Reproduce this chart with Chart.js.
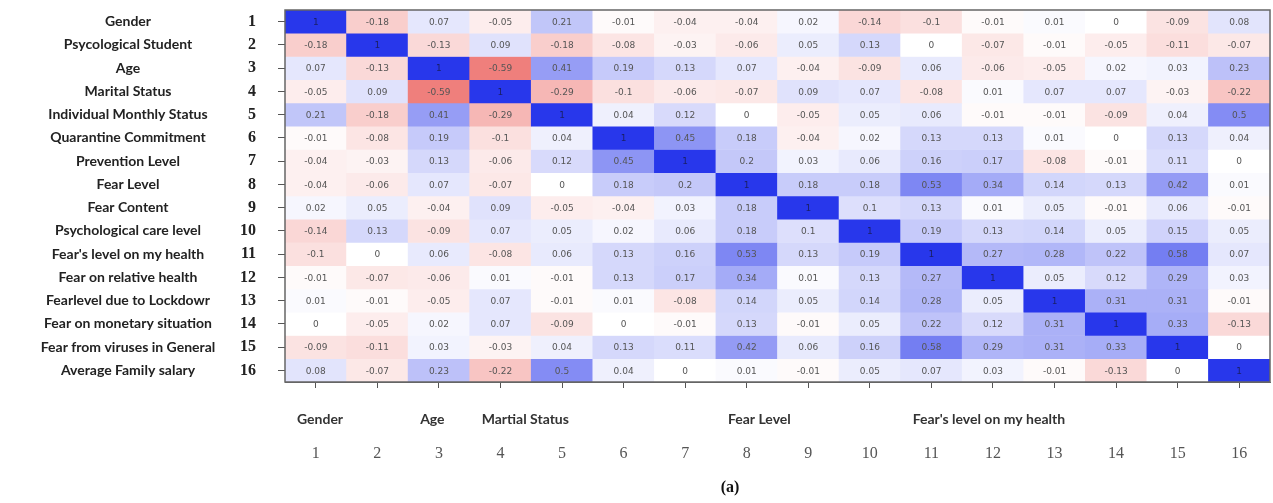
<!DOCTYPE html>
<html>
<head>
<meta charset="utf-8">
<script src="https://cdn.jsdelivr.net/npm/chart.js@4.4.0/dist/chart.umd.min.js"></script>
<style>
  body { margin: 0; background: #fff; overflow: hidden; }
  #wrap { width: 1273px; height: 503px; }
</style>
</head>
<body>
<div id="wrap"><canvas id="corrChart"></canvas></div>
<script>
// tick labels (variable numbers)
const varNums = ['1', '2', '3', '4', '5', '6', '7', '8', '9', '10', '11', '12', '13', '14', '15', '16'];

const rowNames = [
    'Gender', 'Psycological Student', 'Age', 'Marital Status', 'Individual Monthly Status',
    'Quarantine Commitment', 'Prevention Level', 'Fear Level', 'Fear Content',
    'Psychological care level', "Fear's level on my health", 'Fear on relative health',
    'Fearlevel due to Lockdowr', 'Fear on monetary situation', 'Fear from viruses in General',
    'Average Family salary'
];

// names written under some of the columns
const colNames = ['Gender', '', 'Age', 'Martial Status', '', '', '', 'Fear Level', '', '',
    "Fear's level on my health", '', '', '', '', ''];

// correlation matrix, one row per variable
const corr = [
    [1, -0.18, 0.07, -0.05, 0.21, -0.01, -0.04, -0.04, 0.02, -0.14, -0.1, -0.01, 0.01, 0, -0.09, 0.08],
    [-0.18, 1, -0.13, 0.09, -0.18, -0.08, -0.03, -0.06, 0.05, 0.13, 0, -0.07, -0.01, -0.05, -0.11, -0.07],
    [0.07, -0.13, 1, -0.59, 0.41, 0.19, 0.13, 0.07, -0.04, -0.09, 0.06, -0.06, -0.05, 0.02, 0.03, 0.23],
    [-0.05, 0.09, -0.59, 1, -0.29, -0.1, -0.06, -0.07, 0.09, 0.07, -0.08, 0.01, 0.07, 0.07, -0.03, -0.22],
    [0.21, -0.18, 0.41, -0.29, 1, 0.04, 0.12, 0, -0.05, 0.05, 0.06, -0.01, -0.01, -0.09, 0.04, 0.5],
    [-0.01, -0.08, 0.19, -0.1, 0.04, 1, 0.45, 0.18, -0.04, 0.02, 0.13, 0.13, 0.01, 0, 0.13, 0.04],
    [-0.04, -0.03, 0.13, -0.06, 0.12, 0.45, 1, 0.2, 0.03, 0.06, 0.16, 0.17, -0.08, -0.01, 0.11, 0],
    [-0.04, -0.06, 0.07, -0.07, 0, 0.18, 0.2, 1, 0.18, 0.18, 0.53, 0.34, 0.14, 0.13, 0.42, 0.01],
    [0.02, 0.05, -0.04, 0.09, -0.05, -0.04, 0.03, 0.18, 1, 0.1, 0.13, 0.01, 0.05, -0.01, 0.06, -0.01],
    [-0.14, 0.13, -0.09, 0.07, 0.05, 0.02, 0.06, 0.18, 0.1, 1, 0.19, 0.13, 0.14, 0.05, 0.15, 0.05],
    [-0.1, 0, 0.06, -0.08, 0.06, 0.13, 0.16, 0.53, 0.13, 0.19, 1, 0.27, 0.28, 0.22, 0.58, 0.07],
    [-0.01, -0.07, -0.06, 0.01, -0.01, 0.13, 0.17, 0.34, 0.01, 0.13, 0.27, 1, 0.05, 0.12, 0.29, 0.03],
    [0.01, -0.01, -0.05, 0.07, -0.01, 0.01, -0.08, 0.14, 0.05, 0.14, 0.28, 0.05, 1, 0.31, 0.31, -0.01],
    [0, -0.05, 0.02, 0.07, -0.09, 0, -0.01, 0.13, -0.01, 0.05, 0.22, 0.12, 0.31, 1, 0.33, -0.13],
    [-0.09, -0.11, 0.03, -0.03, 0.04, 0.13, 0.11, 0.42, 0.06, 0.16, 0.58, 0.29, 0.31, 0.33, 1, 0],
    [0.08, -0.07, 0.23, -0.22, 0.5, 0.04, 0, 0.01, -0.01, 0.05, 0.07, 0.03, -0.01, -0.13, 0, 1]
];

function cellColor(v) {
    const t = Math.pow(Math.abs(v), 0.8);
    if (v >= 0) {
        return 'rgb(' + Math.round(255 - 215 * t) + ',' + Math.round(255 - 200 * t) + ',' + Math.round(255 - 20 * t) + ')';
    }
    return 'rgb(' + Math.round(255 - 25 * t) + ',' + Math.round(255 - 195 * t) + ',' + Math.round(255 - 200 * t) + ')';
}

// every row is a dataset of floating bars [row-0.5, row+0.5]
const datasets = corr.map((row, r) => ({
    label: rowNames[r],
    data: row.map(() => [r + 0.5, r + 1.5]),
    backgroundColor: row.map(v => cellColor(v)),
    borderWidth: 0,
    barPercentage: 1,
    categoryPercentage: 1,
    grouped: false
}));

// the big tick paddings would otherwise widen the layout margins
function noPadding(s) {
    s.paddingTop = 0;
    s.paddingBottom = 0;
    s.paddingLeft = 0;
    s.paddingRight = 0;
}

const labelsPlugin = {
    id: 'matrixLabels',
    afterDatasetsDraw(chart) {
        const ctx = chart.ctx;
        const x = chart.scales.x, y = chart.scales.y;
        const area = chart.chartArea;
        ctx.save();
        ctx.textAlign = 'center';
        ctx.textBaseline = 'middle';
        ctx.font = '9px "DejaVu Sans"';
        corr.forEach((row, r) => {
            row.forEach((v, c) => {
                ctx.fillStyle = v === 1 ? '#1a1f66' : '#555';
                ctx.fillText(String(v), x.getPixelForValue(c), y.getPixelForValue(r + 1) + 1);
            });
        });
        ctx.strokeStyle = '#666';
        ctx.lineWidth = 1.5;
        ctx.strokeRect(area.left, area.top, area.right - area.left, area.bottom - area.top);
        ctx.restore();
    },
    afterDraw(chart) {
        const ctx = chart.ctx;
        const x = chart.scales.x, y = chart.scales.y;
        const colW = x.getPixelForValue(1) - x.getPixelForValue(0);
        ctx.save();
        ctx.fillStyle = '#222';
        ctx.font = 'bold 14px Lato';
        ctx.textAlign = 'center';
        ctx.textBaseline = 'middle';
        rowNames.forEach((name, r) => {
            ctx.fillText(name, 128, y.getPixelForValue(r + 1));
        });
        ctx.fillStyle = '#333';
        ctx.textAlign = 'left';
        colNames.forEach((name, c) => {
            if (name) ctx.fillText(name, x.getPixelForValue(c) - colW / 2 + 12, 419);
        });
        ctx.textAlign = 'center';
        ctx.fillStyle = '#111';
        ctx.font = 'bold 16px "Liberation Serif"';
        ctx.fillText('(a)', 730, 488);
        ctx.restore();
    }
};

var ctx = document.getElementById('corrChart').getContext('2d');

var corrChart = new Chart(ctx, {
    type: 'bar',
    data: {
        labels: varNums,
        datasets: datasets
    },
    options: {
        responsive: true,
        maintainAspectRatio: false,
        animation: false,
        events: [],
        layout: { padding: { top: 10, right: 3, left: 0, bottom: 0 } },
        plugins: {
            legend: { display: false },
            tooltip: { enabled: false }
        },
        scales: {
            x: {
                grid: { drawOnChartArea: false, offset: false, tickLength: 6, color: '#555' },
                border: { display: true, color: '#666' },
                ticks: {
                    color: '#555',
                    padding: 56,
                    font: { family: 'Liberation Serif', size: 16 },
                    maxRotation: 0
                },
                afterFit: s => { s.height = 121; noPadding(s); }
            },
            y: {
                min: 0.5,
                max: 16.5,
                reverse: true,
                grid: { drawOnChartArea: false, tickLength: 7, color: '#555' },
                border: { display: true, color: '#666' },
                afterBuildTicks: s => { s.ticks = varNums.map((n, i) => ({ value: i + 1 })); },
                ticks: {
                    color: '#222',
                    padding: 22,
                    font: { family: 'Liberation Serif', size: 16, weight: 'bold' },
                    callback: (v) => varNums[v - 1]
                },
                afterFit: s => { s.width = 285; noPadding(s); }
            }
        }
    },
    plugins: [labelsPlugin]
});
</script>
</body>
</html>
